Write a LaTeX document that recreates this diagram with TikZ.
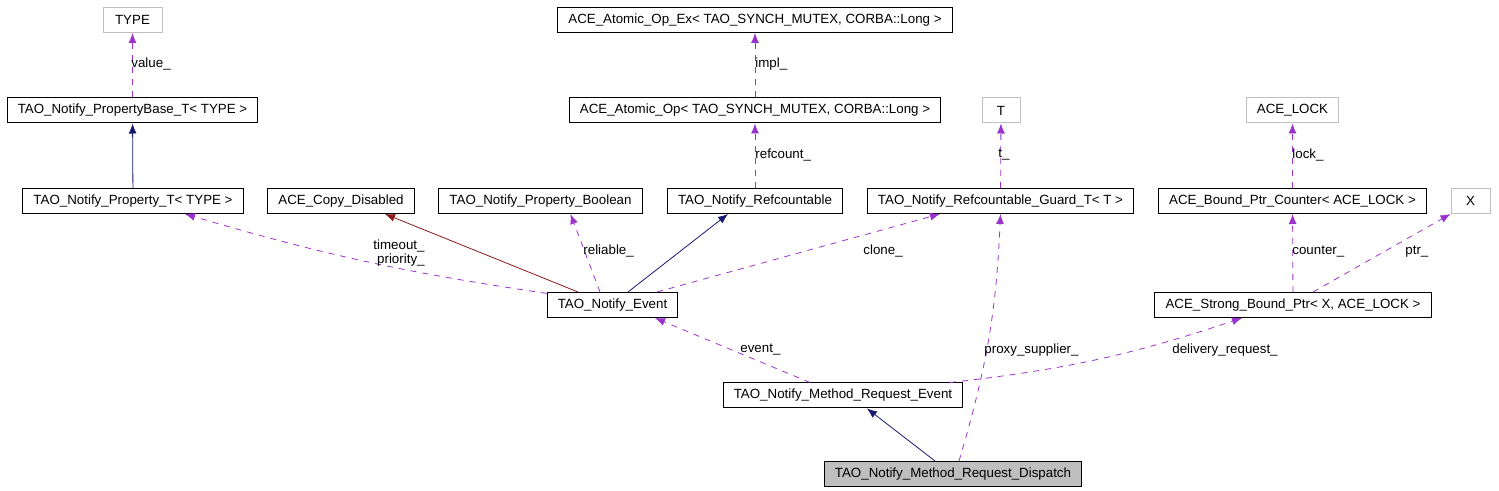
\documentclass[tikz,border=0pt]{standalone}
\usepackage{fontspec}
\setmainfont{Liberation Sans}
\usetikzlibrary{arrows.meta}
\usetikzlibrary{calc}
\definecolor{usecolor}{HTML}{9A32CD}
\definecolor{inhcolor}{HTML}{191970}
\definecolor{privcolor}{HTML}{8B1A1A}
\definecolor{extcolor}{HTML}{BFBFBF}

\begin{document}
\begin{tikzpicture}[x=0.75pt,y=-0.75pt,
  font=\fontsize{10}{10.5}\selectfont,
  cls/.style={draw=black,line width=0.75pt,inner xsep=8pt,inner ysep=0pt,minimum height=18.75pt},
  ext/.style={cls,draw=extcolor},
  uses/.style={usecolor,line width=0.6pt,dash pattern=on 4.5pt off 4.5pt,-{Latex[length=7.5pt,width=6pt]}},
  inh/.style={inhcolor,line width=0.6pt,-{Latex[length=7.5pt,width=6pt]}},
  priv/.style={privcolor,line width=0.6pt,-{Latex[length=7.5pt,width=6pt]}},
  lbl/.style={text=black,inner sep=0pt,anchor=west}]
  \useasboundingbox (0,0) rectangle (1499,491);
  % top rows
  \node[ext,minimum width=44.25pt] (type) at (132.5,20) {TYPE};
  \node[cls] (aopex) at (755,20) {ACE\_Atomic\_Op\_Ex< TAO\_SYNCH\_MUTEX, CORBA::Long >};
  \node[cls] (pbase) at (132.5,110.5) {TAO\_Notify\_PropertyBase\_T< TYPE >};
  \node[cls] (aop) at (755,110.5) {ACE\_Atomic\_Op< TAO\_SYNCH\_MUTEX, CORBA::Long >};
  \node[ext,minimum width=28.5pt] (tpar) at (1001,110.5) {T};
  \node[ext] (lock) at (1292.5,110.5) {ACE\_LOCK};
  % middle row
  \node[cls] (propt) at (133,201) {TAO\_Notify\_Property\_T< TYPE >};
  \node[cls] (copy) at (341,201) {ACE\_Copy\_Disabled};
  \node[cls] (bool) at (540.5,201) {TAO\_Notify\_Property\_Boolean};
  \node[cls] (refc) at (755,201) {TAO\_Notify\_Refcountable};
  \node[cls] (guard) at (1000.5,201) {TAO\_Notify\_Refcountable\_Guard\_T< T >};
  \node[cls] (bpc) at (1292.5,201) {ACE\_Bound\_Ptr\_Counter< ACE\_LOCK >};
  \node[ext,minimum width=29.25pt] (xpar) at (1470.5,201) {X};
  % lower rows
  \node[cls] (ev) at (612.5,305) {TAO\_Notify\_Event};
  \node[cls] (sbp) at (1293,305) {ACE\_Strong\_Bound\_Ptr< X, ACE\_LOCK >};
  \node[cls] (mre) at (843,395.5) {TAO\_Notify\_Method\_Request\_Event};
  \node[cls,fill=extcolor] (disp) at (953,474) {TAO\_Notify\_Method\_Request\_Dispatch};

  \draw[uses] (pbase) -- (type) node[lbl] at (131,64) {value\_};
  \draw[inh] (propt) -- (pbase);
  \draw[uses] (aop) -- (aopex) node[lbl] at (755,64) {impl\_};
  \draw[uses] (refc) -- (aop) node[lbl] at (755,155) {refcount\_};
  \draw[uses] (guard) -- (tpar) node[lbl] at (998,155) {t\_};
  \draw[uses] (bpc) -- (lock) node[lbl] at (1292,155) {lock\_};
  \draw[uses] (sbp) -- (bpc) node[lbl] at (1292,252) {counter\_};
  \draw[uses] ($(sbp.north)+(20,0)$) -- (xpar.south west) node[lbl] at (1405,252) {ptr\_};
  \draw[uses] (ev.170) to[bend left=4] ($(propt.south)+(52,0)$)
    node[lbl,anchor=east,align=right] at (425,253) {timeout\_\\priority\_};
  \draw[priv] ($(ev.north)+(-34.5,0)$) -- ($(copy.south)+(44,0)$);
  \draw[uses] ($(ev.north)+(-12.5,0)$) -- ($(bool.south)+(30,0)$) node[lbl] at (583,251) {reliable\_};
  \draw[inh] ($(ev.north)+(15.5,0)$) -- ($(refc.south)+(-27,0)$);
  \draw[uses] ($(ev.north)+(44.5,0)$) -- ($(guard.south)+(-60.5,0)$) node[lbl] at (863,251) {clone\_};
  \draw[uses] ($(mre.north)+(-33,0)$) -- ($(ev.south)+(42.5,0)$) node[lbl] at (740,350) {event\_};
  \draw[uses] ($(mre.north)+(107,0)$) to[bend right=6] ($(sbp.south)+(-51,0)$)
    node[lbl] at (1172,350) {delivery\_request\_};
  \draw[uses] ($(disp.north)+(6,0)$) to[bend right=7] (guard.south)
    node[lbl] at (984,350) {proxy\_supplier\_};
  \draw[inh] ($(disp.north)+(-18,0)$) -- ($(mre.south)+(24,0)$);
\end{tikzpicture}
\end{document}
